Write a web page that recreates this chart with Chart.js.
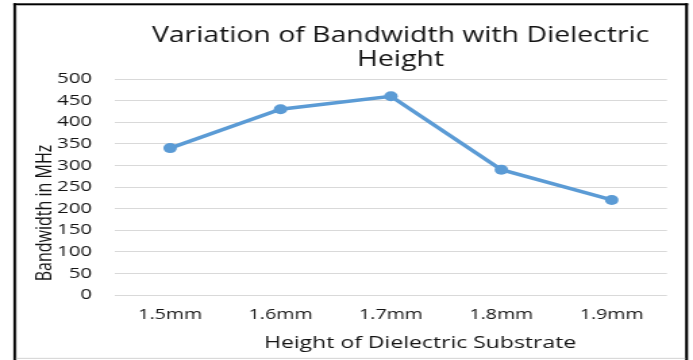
<!DOCTYPE html>
<html>
<head>
<meta charset="utf-8">
<script src="https://cdn.jsdelivr.net/npm/chart.js@4/dist/chart.umd.min.js"></script>
<style>
  html, body { margin: 0; padding: 0; background: #ffffff; }
  #wrap { width: 693px; height: 360px; overflow: hidden; }
  /* drawing surface is rendered narrow and widened to the page width */
  #chart { display: block; width: 693px !important; height: 360px !important; }
</style>
</head>
<body>
<div id="wrap"><canvas id="chart" width="513" height="360"></canvas></div>
<script>
// Bandwidth measured for each dielectric substrate height
const heights = ['1.5mm', '1.6mm', '1.7mm', '1.8mm', '1.9mm'];
const bandwidthMHz = [340, 430, 460, 290, 220];
const yTicks = [0, 50, 100, 150, 200, 250, 300, 350, 400, 450, 500];

const titleLines = ['Variation of Bandwidth with Dielectric', 'Height'];
const xTitle = 'Height of Dielectric Substrate';
const yTitle = 'Bandwidth in MHz';

const FONT = '"Open Sans", "Liberation Sans", sans-serif';
const LINE_BLUE = '#5B9BD5';
const TEXT = '#141414';

// frame around the chart plus the chart and axis titles
const decorations = {
  id: 'decorations',
  beforeDraw(chart) {
    const ctx = chart.ctx;
    ctx.save();
    ctx.fillStyle = '#ffffff';
    ctx.fillRect(0, 0, chart.width, chart.height);
    ctx.restore();
  },
  afterDraw(chart) {
    const ctx = chart.ctx;
    ctx.save();
    // outer frame
    ctx.fillStyle = '#000000';
    ctx.fillRect(9.9, 3.3, 2, chart.height);
    ctx.fillRect(9.9, 3.3, 499.4, 2);
    ctx.fillRect(507.2, 3.3, 2.1, chart.height);
    ctx.fillStyle = '#d9d9d9';
    ctx.fillRect(11.9, 357.8, 495.3, 1.2);
    ctx.fillRect(11.9, 5.3, 0.8, chart.height);

    // chart title
    ctx.fillStyle = TEXT;
    ctx.textAlign = 'center';
    ctx.textBaseline = 'alphabetic';
    ctx.font = '21px ' + FONT;
    ctx.fillText(titleLines[0], 296.5, 41.5);
    ctx.fillText(titleLines[1], 296.5, 66);

    // x axis title
    ctx.font = '17px ' + FONT;
    ctx.fillText(xTitle, 311, 347.5);

    // y axis title, rotated
    ctx.font = '16px ' + FONT;
    ctx.translate(37.6, 213);
    ctx.rotate(-Math.PI / 2);
    ctx.fillText(yTitle, 0, 0);
    ctx.restore();
  }
};

new Chart(document.getElementById('chart'), {
  type: 'line',
  data: {
    labels: heights,
    datasets: [{
      data: bandwidthMHz,
      borderColor: LINE_BLUE,
      backgroundColor: LINE_BLUE,
      borderWidth: 3.5,
      pointRadius: 5,
      pointHoverRadius: 5,
      pointBorderWidth: 0,
      pointBackgroundColor: LINE_BLUE,
      tension: 0,
      fill: false
    }]
  },
  options: {
    responsive: false,
    animation: false,
    devicePixelRatio: 1,
    layout: { padding: { top: 79, right: 19.3, bottom: 0, left: 0 } },
    plugins: {
      legend: { display: false },
      title: { display: false },
      tooltip: { enabled: false }
    },
    scales: {
      x: {
        type: 'category',
        offset: true,
        grid: { display: false, drawTicks: false },
        border: { display: false },
        ticks: {
          color: TEXT,
          font: { family: FONT, size: 14.5 },
          padding: 11,
          maxRotation: 0
        },
        afterFit(scale) { scale.height = 65; }
      },
      y: {
        min: 0,
        max: 500,
        afterBuildTicks(scale) { scale.ticks = yTicks.map(v => ({ value: v })); },
        grid: { color: '#d9d9d9', lineWidth: 1, drawTicks: false },
        border: { display: false },
        ticks: {
          color: TEXT,
          font: { family: FONT, size: 15 },
          padding: 17
        },
        afterFit(scale) { scale.width = 85.1; }
      }
    }
  },
  plugins: [decorations]
});
</script>
</body>
</html>
